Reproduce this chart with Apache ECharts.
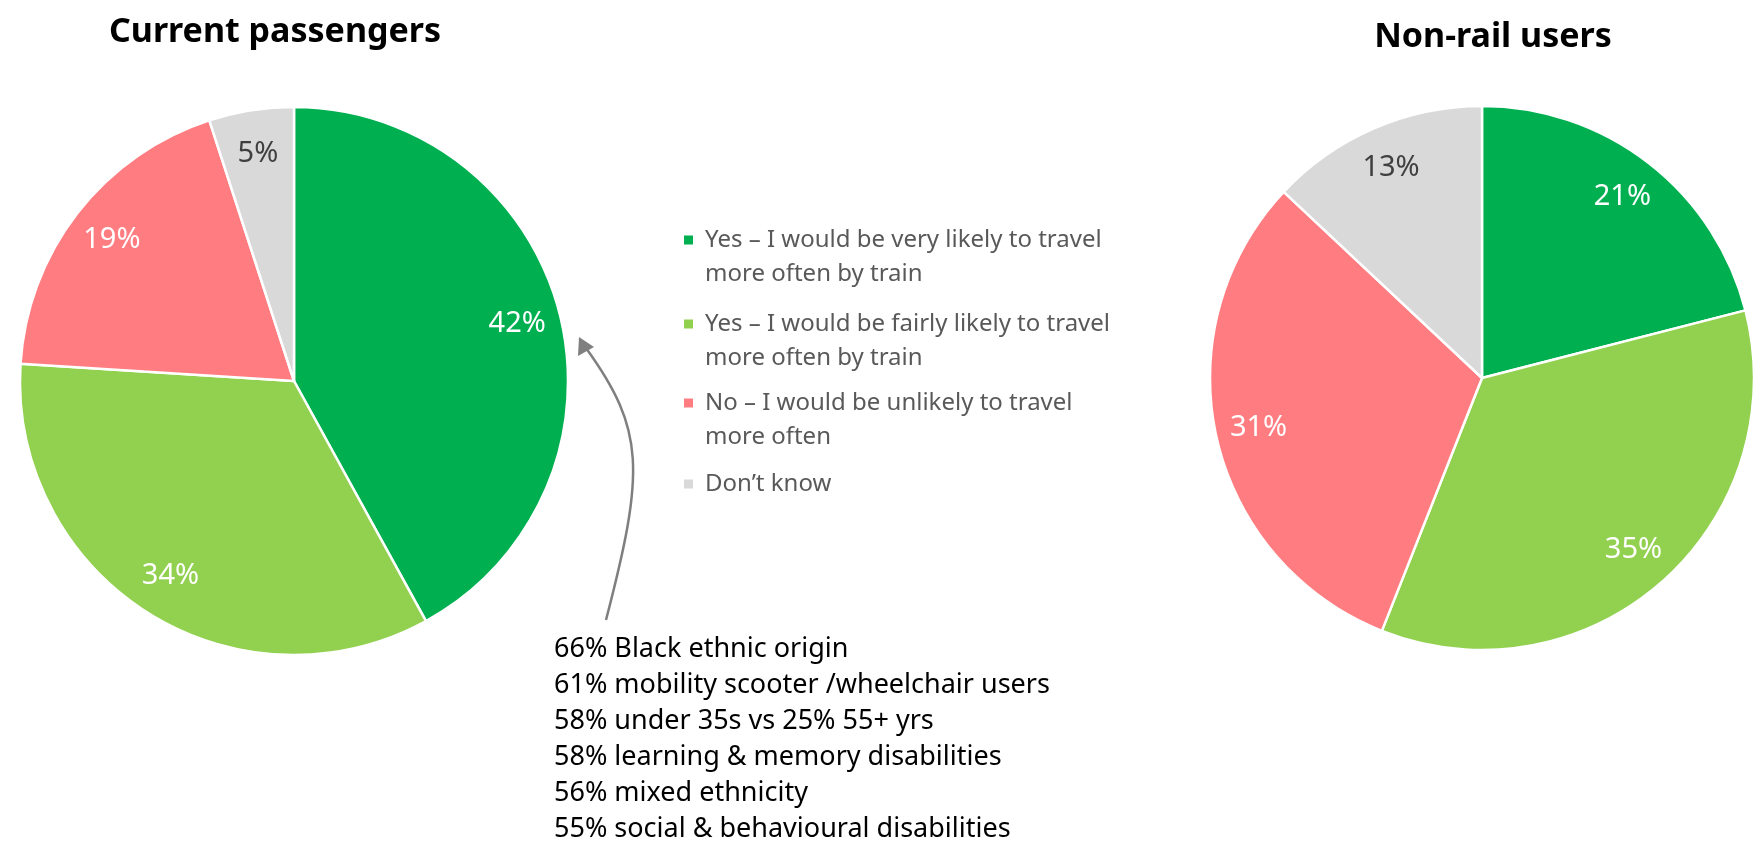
<!DOCTYPE html>
<html>
<head>
<meta charset="utf-8">
<script src="https://cdn.jsdelivr.net/npm/echarts@6/dist/echarts.min.js"></script>
<style>
  html, body { margin: 0; padding: 0; background: #fff; }
  #chart { width: 1754px; height: 844px; }
</style>
</head>
<body>
<div id="chart"></div>
<script>
// answer categories (legend order)
const categories = [
  'Yes – I would be very likely to travel\nmore often by train',
  'Yes – I would be fairly likely to travel\nmore often by train',
  'No – I would be unlikely to travel\nmore often',
  'Don’t know'
];
const colors = ['#00B050', '#92D050', '#FF7C80', '#D9D9D9'];
const labelColors = ['#ffffff', '#ffffff', '#ffffff', '#404040'];

// shares in %
const currentPassengers = [42, 34, 19, 5];
const nonRailUsers = [21, 35, 31, 13];

const notes = [
  '66% Black ethnic origin',
  '61% mobility scooter /wheelchair users',
  '58% under 35s vs 25% 55+ yrs',
  '58% learning & memory disabilities',
  '56% mixed ethnicity',
  '55% social & behavioural disabilities'
];

const font = 'Noto Sans';
const chart = echarts.init(document.getElementById('chart'));

function pieData(values, labelRing) {
  return values.map((v, i) => ({
    name: categories[i],
    value: v,
    itemStyle: labelRing ? { color: 'rgba(0,0,0,0)', borderWidth: 0 } : { color: colors[i] },
    label: { color: labelColors[i] }
  }));
}

function pieSeries(values, center, r) {
  return [
    {
      type: 'pie',
      center: center,
      radius: [0, r],
      startAngle: 90,
      clockwise: true,
      silent: true,
      itemStyle: { borderColor: '#fff', borderWidth: 2.5 },
      label: { show: false },
      labelLine: { show: false },
      data: pieData(values, false)
    },
    {
      // transparent ring, only to put the labels at ~0.83 r
      type: 'pie',
      center: center,
      radius: [Math.round(r * 0.66), r],
      startAngle: 90,
      clockwise: true,
      silent: true,
      label: {
        show: true,
        position: 'inside',
        formatter: '{c}%',
        fontFamily: font,
        fontSize: 29
      },
      labelLine: { show: false },
      data: pieData(values, true)
    }
  ];
}

// one legend per entry; a blank first line keeps the marker on the first text line
const legendTops = [240, 324, 403, 484];
const legends = categories.map((c, i) => {
  const lines = c.split('\n').length;
  return {
    orient: 'vertical',
    left: 682,
    top: lines > 1 ? legendTops[i] - 51 : legendTops[i] - 17,
    padding: 0,
    itemWidth: 11,
    itemHeight: 11,
    icon: 'rect',
    selectedMode: false,
    data: [c],
    formatter: name => (lines > 1 ? '\n' + name : name),
    textStyle: {
      fontFamily: font,
      fontSize: 24,
      color: '#595959',
      lineHeight: 34,
      padding: [0, 0, 0, 6]
    }
  };
});

chart.setOption({
  backgroundColor: '#fff',
  animation: false,
  title: [
    {
      text: 'Current passengers',
      left: 270, top: 27, textAlign: 'center', textVerticalAlign: 'middle',
      textStyle: { fontFamily: font, fontWeight: 'bold', fontSize: 34, color: '#000' }
    },
    {
      text: 'Non-rail users',
      left: 1488, top: 32, textAlign: 'center', textVerticalAlign: 'middle',
      textStyle: { fontFamily: font, fontWeight: 'bold', fontSize: 34, color: '#000' }
    }
  ],
  legend: legends,
  series: [
    ...pieSeries(currentPassengers, [294, 381], 274),
    ...pieSeries(nonRailUsers, [1482, 378], 272)
  ],
  graphic: [
    {
      type: 'bezierCurve',
      shape: { x1: 606, y1: 620, cpx1: 645, cpy1: 470, cpx2: 645, cpy2: 430, x2: 586, y2: 348 },
      style: { stroke: '#7F7F7F', lineWidth: 2.5, fill: null }
    },
    {
      type: 'polygon',
      shape: { points: [[579, 337], [578, 356], [594, 347]] },
      style: { fill: '#7F7F7F' }
    },
    {
      type: 'text',
      left: 554,
      top: 631,
      style: {
        text: notes.join('\n'),
        fontFamily: font,
        fontSize: 27,
        lineHeight: 36,
        fill: '#000'
      }
    }
  ]
});
</script>
</body>
</html>
